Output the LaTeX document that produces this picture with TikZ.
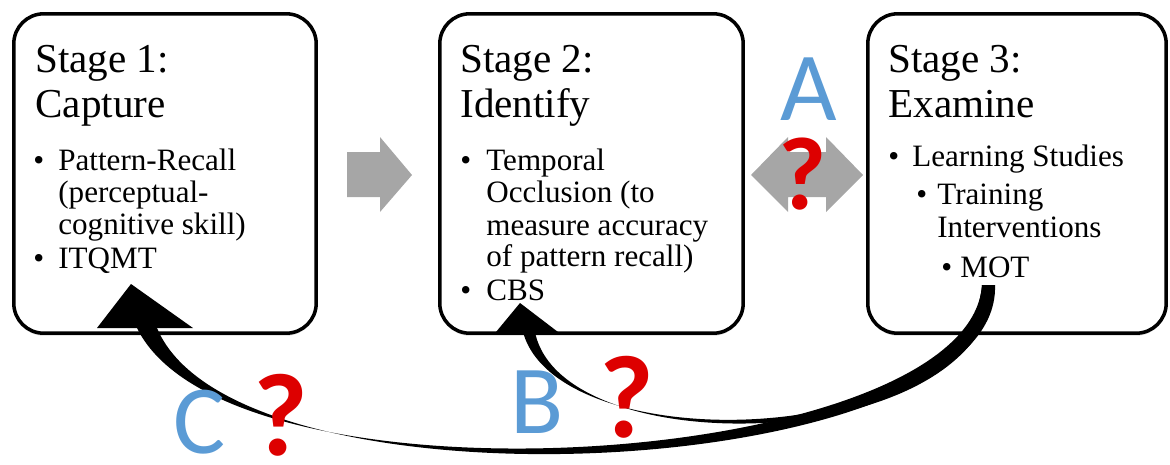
\documentclass[tikz,border=0pt]{standalone}
\usepackage{fontspec}
\setmainfont{Liberation Serif}
\newfontfamily\letterfont{Carlito}
\usetikzlibrary{positioning,shadows}

\definecolor{letterblue}{RGB}{91,155,213}
\definecolor{askred}{RGB}{221,0,0}
\definecolor{flowgrey}{RGB}{166,166,166}

\tikzset{
  stagebox/.style={draw, fill=white, line width=2pt, rounded corners=0.6cm, inner sep=0pt,
    minimum height=6.39cm, drop shadow={shadow xshift=0cm, shadow yshift=-0.05cm, opacity=0.3}},
  heading/.style={anchor=base west, inner sep=0pt, font=\fontsize{23.4}{25}\selectfont},
  itemtext/.style={anchor=base west, inner sep=0pt, font=\fontsize{17.7}{19}\selectfont},
  dot/.style={itemtext},
  pathletter/.style={anchor=base, inner sep=0pt, text=letterblue, font=\letterfont\fontsize{55.6}{60}\selectfont},
  ask/.style={anchor=base, inner sep=0pt, text=askred, font=\letterfont\bfseries\fontsize{#1}{#1}\selectfont},
  ask/.default={67}
}

\begin{document}
\begin{tikzpicture}[x=0.02cm, y=-0.02cm]
  \useasboundingbox (0,0) rectangle (1170,464);

  % the three stages
  \node[stagebox, minimum width=6.05cm] (capture) at (165,173.5) {};
  \node[stagebox, minimum width=6.07cm] (identify) at (591.5,173.5) {};
  \node[stagebox, minimum width=5.97cm] (examine) at (1017,173.5) {};

  % stage 1
  \node[heading] (cap-a) at (35,72) {Stage 1:};
  \node[heading] (cap-b) at (35,117) {Capture};
  \node[dot] (cap-d1) at (33,170) {\textbullet};
  \foreach \ty/\tx in {170/Pattern-Recall, 202/{(perceptual-}, 234/{cognitive skill)}}
    \node[itemtext] (cap-\ty) at (58,\ty) {\tx};
  \node[dot] (cap-d2) at (33,268) {\textbullet};
  \node[itemtext] (itqmt) at (58,268) {ITQMT};

  % stage 2
  \node[heading] (idf-a) at (460,72) {Stage 2:};
  \node[heading] (idf-b) at (460,117) {Identify};
  \node[dot] (idf-d1) at (460,170) {\textbullet};
  \foreach \ty/\tx in {170/Temporal, 202/{Occlusion (to}, 235/{measure accuracy}, 266/{of pattern recall)}}
    \node[itemtext] (idf-\ty) at (486,\ty) {\tx};
  \node[dot] (idf-d2) at (460,300) {\textbullet};
  \node[itemtext] (cbs) at (486,300) {CBS};

  % stage 3
  \node[heading] (exa-a) at (888,72) {Stage 3:};
  \node[heading] (exa-b) at (888,117) {Examine};
  \node[dot] (exa-d1) at (888,166) {\textbullet};
  \node[itemtext] (learning) at (912,166) {Learning Studies};
  \node[dot] (exa-d2) at (916,204) {\textbullet};
  \node[itemtext] (training) at (937,204) {Training};
  \node[itemtext] (interv) at (937,237) {Interventions};
  \node[dot] (exa-d3) at (941,277) {\textbullet};
  \node[itemtext] (mot) at (960,277) {MOT};

  % grey block arrows between the stages
  \fill[flowgrey] (347,152) -- (380,152) -- (380,137) -- (412,175)
    -- (380,212) -- (380,197) -- (347,197) -- cycle;
  \fill[flowgrey] (751,175) -- (788,137) -- (788,152) -- (826,152) -- (826,137)
    -- (863,175) -- (826,212) -- (826,197) -- (788,197) -- (788,212) -- cycle;

  % curved arrows back from MOT
  \coordinate (motfoot) at (988,285);
  \coordinate (itqmttip) at (131,284);
  \coordinate (cbstip) at (520,303);
  \fill (995,285) .. controls (1002,480) and (238,522) .. (157,328)
    -- (137,328) .. controls (230,518) and (970,468) .. (982,285) -- cycle;
  \fill (995,285) .. controls (983,455) and (562,466) .. (535,332)
    -- (523,332) .. controls (558,461) and (968,450) .. (982,285) -- cycle;
  \fill (itqmttip) -- (97,328) -- (193,328) -- cycle;
  \fill (cbstip) -- (496,332) -- (558,332) -- cycle;

  % path labels
  \node[pathletter] (la) at (809,120) {A};
  \node[pathletter] (lb) at (537,433) {B};
  \node[pathletter] (lc) at (200,453) {C};
  \node[ask=59] (qa) at (803,209) {?};
  \node[ask] (qb) at (627,437) {?};
  \node[ask] (qc) at (281,455) {?};
\end{tikzpicture}
\end{document}
